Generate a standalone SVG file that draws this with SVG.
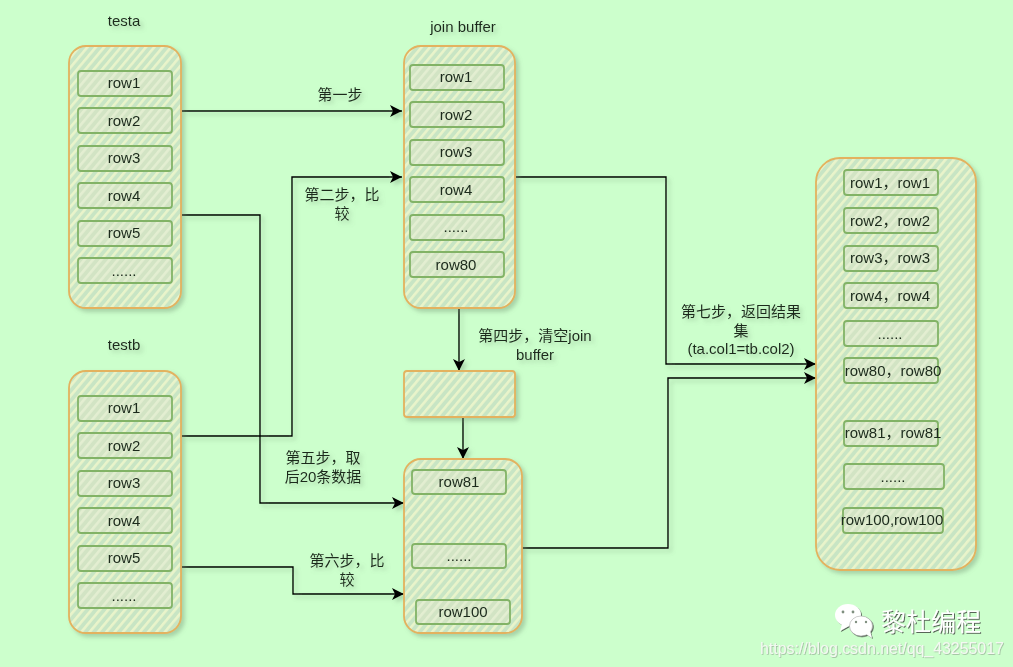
<svg xmlns="http://www.w3.org/2000/svg" width="1013" height="667" viewBox="0 0 1013 667">
<style>
text{font-family:"Liberation Sans","Noto Sans CJK SC",sans-serif;font-size:15px;fill:#1c2a1c;text-anchor:middle}
.box{fill:url(#hatch);stroke:#e3b25e;stroke-width:1.8}
.row{fill:url(#hatchRow);stroke:#82b366;stroke-width:1.8}
.edge{fill:none;stroke:#000;stroke-width:1.4;marker-end:url(#arrow)}
.wm{fill:#fff;font-family:"Noto Sans CJK SC",sans-serif;font-size:25px;text-anchor:start}
.url{fill:#f4f8f2;font-size:15.9px;text-anchor:start}
</style>
<defs>
<pattern id="hatch" width="6.4" height="6.4" patternUnits="userSpaceOnUse" patternTransform="rotate(-50)">
<rect width="6.4" height="6.4" fill="#c8e5c4"/><rect width="6.4" height="2.6" fill="#e9f4ca"/>
</pattern>
<pattern id="hatchRow" width="6.4" height="6.4" patternUnits="userSpaceOnUse" patternTransform="rotate(-50)">
<rect width="6.4" height="6.4" fill="#d2e4c4"/><rect width="6.4" height="2.6" fill="#e3eed1"/>
</pattern>
<filter id="sh" x="-20%" y="-20%" width="150%" height="150%">
<feDropShadow dx="3" dy="3" stdDeviation="2" flood-color="#6f8f6f" flood-opacity=".4"/>
</filter>
<filter id="wmsh" x="-5%" y="-10%" width="115%" height="130%">
<feDropShadow dx="1" dy="1" stdDeviation=".4" flood-color="#333" flood-opacity=".75"/>
</filter>
<filter id="urlsh" x="-5%" y="-10%" width="115%" height="130%">
<feDropShadow dx=".8" dy=".8" stdDeviation=".4" flood-color="#666" flood-opacity=".45"/>
</filter>
<marker id="arrow" markerUnits="userSpaceOnUse" markerWidth="14" markerHeight="12" refX="12" refY="6" orient="auto">
<path d="M0 0L12 6L0 12L3 6Z" fill="#000"/>
</marker>
</defs>
<rect width="1013" height="667" fill="#ccffcc"/>

<g id="connectors" filter="url(#sh)">
<path class="edge" d="M182 111H402"/>
<path class="edge" d="M182 436H292V177H402"/>
<path class="edge" d="M182 215H260V503H404"/>
<path class="edge" d="M182 567H293V594H404"/>
<path class="edge" d="M516 177H666V364H816"/>
<path class="edge" d="M522 548H668V378H816"/>
<path class="edge" d="M459 309V371"/>
<path class="edge" d="M463 417V459"/>
</g>

<g id="testa" filter="url(#sh)">
<rect class="box" x="69" y="46" width="112" height="262" rx="17"/>
<text x="124" y="26">testa</text>
<rect class="row" x="78" y="71" width="94" height="25" rx="3"/><text x="124" y="88">row1</text>
<rect class="row" x="78" y="108" width="94" height="25" rx="3"/><text x="124" y="126">row2</text>
<rect class="row" x="78" y="146" width="94" height="25" rx="3"/><text x="124" y="163">row3</text>
<rect class="row" x="78" y="183" width="94" height="25" rx="3"/><text x="124" y="201">row4</text>
<rect class="row" x="78" y="221" width="94" height="25" rx="3"/><text x="124" y="238">row5</text>
<rect class="row" x="78" y="258" width="94" height="25" rx="3"/><text x="124" y="276">......</text>
</g>

<g id="testb" filter="url(#sh)">
<rect class="box" x="69" y="371" width="112" height="262" rx="17"/>
<text x="124" y="350">testb</text>
<rect class="row" x="78" y="396" width="94" height="25" rx="3"/><text x="124" y="413">row1</text>
<rect class="row" x="78" y="433" width="94" height="25" rx="3"/><text x="124" y="451">row2</text>
<rect class="row" x="78" y="471" width="94" height="25" rx="3"/><text x="124" y="488">row3</text>
<rect class="row" x="78" y="508" width="94" height="25" rx="3"/><text x="124" y="526">row4</text>
<rect class="row" x="78" y="546" width="94" height="25" rx="3"/><text x="124" y="563">row5</text>
<rect class="row" x="78" y="583" width="94" height="25" rx="3"/><text x="124" y="601">......</text>
</g>

<g id="joinbuffer" filter="url(#sh)">
<rect class="box" x="404" y="46" width="111" height="262" rx="17"/>
<text x="463" y="32">join buffer</text>
<rect class="row" x="410" y="65" width="94" height="25" rx="3"/><text x="456" y="82">row1</text>
<rect class="row" x="410" y="102" width="94" height="25" rx="3"/><text x="456" y="120">row2</text>
<rect class="row" x="410" y="140" width="94" height="25" rx="3"/><text x="456" y="157">row3</text>
<rect class="row" x="410" y="177" width="94" height="25" rx="3"/><text x="456" y="195">row4</text>
<rect class="row" x="410" y="215" width="94" height="25" rx="3"/><text x="456" y="232">......</text>
<rect class="row" x="410" y="252" width="94" height="25" rx="3"/><text x="456" y="270">row80</text>
</g>

<g id="emptied" filter="url(#sh)">
<rect class="box" x="404" y="371" width="111" height="46" rx="3"/>
</g>

<g id="buffer2" filter="url(#sh)">
<rect class="box" x="404" y="459" width="118" height="174" rx="17"/>
<rect class="row" x="412" y="470" width="94" height="24" rx="3"/><text x="459" y="487">row81</text>
<rect class="row" x="412" y="544" width="94" height="24" rx="3"/><text x="459" y="561">......</text>
<rect class="row" x="416" y="600" width="94" height="24" rx="3"/><text x="463" y="617">row100</text>
</g>

<g id="result" filter="url(#sh)">
<rect class="box" x="816" y="158" width="160" height="412" rx="24"/>
<rect class="row" x="844" y="170" width="94" height="25" rx="3"/><text x="890" y="188">row1，row1</text>
<rect class="row" x="844" y="208" width="94" height="25" rx="3"/><text x="890" y="226">row2，row2</text>
<rect class="row" x="844" y="246" width="94" height="25" rx="3"/><text x="890" y="263">row3，row3</text>
<rect class="row" x="844" y="283" width="94" height="25" rx="3"/><text x="890" y="301">row4，row4</text>
<rect class="row" x="844" y="321" width="94" height="25" rx="3"/><text x="890" y="339">......</text>
<rect class="row" x="844" y="358" width="94" height="25" rx="3"/><text x="893" y="376">row80，row80</text>
<rect class="row" x="844" y="421" width="94" height="25" rx="3"/><text x="893" y="438">row81，row81</text>
<rect class="row" x="844" y="464" width="100" height="25" rx="3"/><text x="893" y="482">......</text>
<rect class="row" x="843" y="508" width="100" height="25" rx="3"/><text x="892" y="525">row100,row100</text>
</g>

<g id="labels" filter="url(#sh)">
<text x="340" y="100">第一步</text>
<text x="342" y="200">第二步，比</text>
<text x="342" y="219">较</text>
<text x="535" y="341">第四步，清空join</text>
<text x="535" y="360">buffer</text>
<text x="323" y="463">第五步，取</text>
<text x="323" y="482">后20条数据</text>
<text x="347" y="566">第六步，比</text>
<text x="347" y="585">较</text>
<text x="741" y="317">第七步，返回结果</text>
<text x="741" y="336">集</text>
<text x="741" y="354">(ta.col1=tb.col2)</text>
</g>

<g id="watermark" filter="url(#wmsh)">
<ellipse cx="848" cy="615" rx="13" ry="11" fill="#fff"/>
<path d="M842 624L840 631L849 626Z" fill="#fff"/>
<ellipse cx="861" cy="626" rx="11.5" ry="10" fill="#fff" stroke="#999" stroke-width=".5"/>
<path d="M866 634L872 638L870 631Z" fill="#fff"/>
<circle cx="843" cy="612" r="1.4" fill="#7f8f7f"/><circle cx="853" cy="612" r="1.4" fill="#7f8f7f"/>
<circle cx="856" cy="622" r="1.2" fill="#7f8f7f"/><circle cx="866" cy="622" r="1.2" fill="#7f8f7f"/>
<text class="wm" x="881" y="631">黎杜编程</text>
</g>
<text id="url" class="url" x="760" y="654" filter="url(#urlsh)">https://blog.csdn.net/qq_43255017</text>
</svg>
